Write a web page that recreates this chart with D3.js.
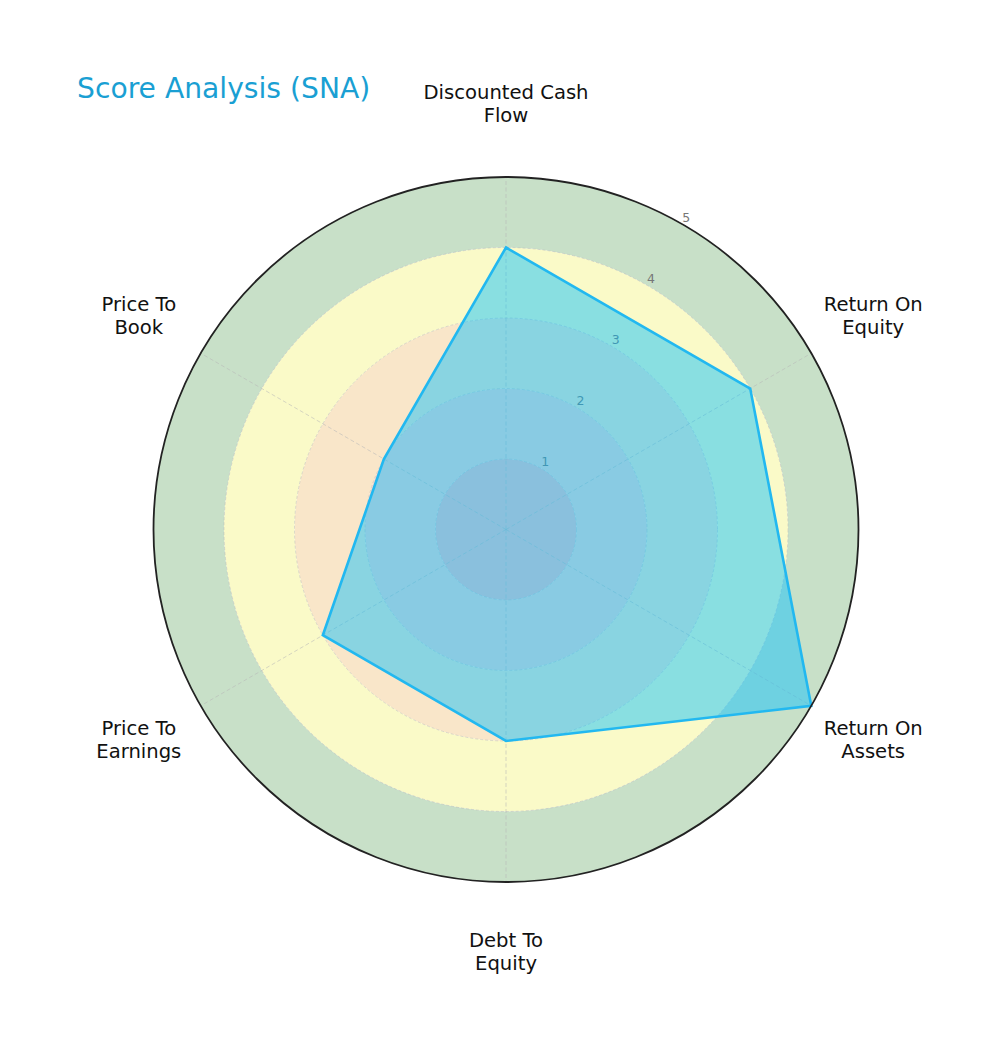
<!DOCTYPE html>
<html>
<head>
<meta charset="utf-8">
<script src="https://cdn.jsdelivr.net/npm/d3@7"></script>
<style>
  body { margin: 0; background: #fff; }
  svg { display: block; font-family: "DejaVu Sans", sans-serif; }
</style>
</head>
<body>
<svg id="chart"></svg>
<script>
// chart data
const categories = [
  "Discounted Cash\nFlow",
  "Return On\nEquity",
  "Return On\nAssets",
  "Debt To\nEquity",
  "Price To\nEarnings",
  "Price To\nBook"
];
const scores = [4, 4, 5, 3, 3, 2];
const tickValues = [1, 2, 3, 4, 5];
const bandEdges = [0, 1, 2, 3, 4, 5];
const bandColors = ["#fbc2c2", "#f9d6cc", "#f9e6c9", "#fafac8", "#c8e0c8"];

const width = 1000, height = 1051;
const cx = 506, cy = 529.5, outerR = 352.5;

const svg = d3.select("#chart")
  .attr("width", width)
  .attr("height", height)
  .attr("viewBox", `0 0 ${width} ${height}`);

const r = d3.scaleLinear().domain([0, 5]).range([0, outerR]);
const angle = d3.scaleLinear()
  .domain([0, categories.length])
  .range([0, 2 * Math.PI]);

const g = svg.append("g").attr("transform", `translate(${cx},${cy})`);

// background bands
const arc = d3.arc();
g.selectAll(".band")
  .data(d3.range(bandColors.length))
  .enter().append("path")
  .attr("class", "band")
  .attr("d", i => arc({ innerRadius: r(bandEdges[i]), outerRadius: r(bandEdges[i + 1]), startAngle: 0, endAngle: 2 * Math.PI }))
  .attr("fill", i => bandColors[i]);

// grid circles
g.selectAll(".ring")
  .data(tickValues.slice(0, -1))
  .enter().append("circle")
  .attr("class", "ring")
  .attr("r", d => r(d))
  .attr("fill", "none")
  .attr("stroke", "#b8b8b8")
  .attr("stroke-opacity", 0.6)
  .attr("stroke-width", 0.8)
  .attr("stroke-dasharray", "3,2");

// radial lines
g.selectAll(".spoke")
  .data(categories)
  .enter().append("line")
  .attr("class", "spoke")
  .attr("x1", 0).attr("y1", 0)
  .attr("x2", (d, i) => r(5) * Math.sin(angle(i)))
  .attr("y2", (d, i) => -r(5) * Math.cos(angle(i)))
  .attr("stroke", "#b8b8b8")
  .attr("stroke-opacity", 0.7)
  .attr("stroke-width", 0.8)
  .attr("stroke-dasharray", "4,2.5");

// radial tick labels at 30 degrees (under the polygon)
const tickAngle = Math.PI / 6;
g.selectAll(".tick-label")
  .data(tickValues)
  .enter().append("text")
  .attr("class", "tick-label")
  .attr("x", d => (r(d) + 8) * Math.sin(tickAngle))
  .attr("y", d => -(r(d) + 8) * Math.cos(tickAngle))
  .attr("text-anchor", "middle")
  .attr("dominant-baseline", "central")
  .attr("font-size", 12.5)
  .attr("fill", "#777")
  .text(d => d);

// score polygon
const line = d3.lineRadial()
  .angle((d, i) => angle(i))
  .radius(d => r(d))
  .curve(d3.curveLinearClosed);

g.append("path")
  .datum(scores)
  .attr("d", line)
  .attr("fill", "#00bfff")
  .attr("fill-opacity", 0.45)
  .attr("stroke", "#22b8f0")
  .attr("stroke-width", 2.6)
  .attr("stroke-linejoin", "miter");

// outer frame
g.append("circle")
  .attr("r", r(5))
  .attr("fill", "none")
  .attr("stroke", "#222")
  .attr("stroke-width", 1.8);

// category labels
const labelR = 424;
const labels = g.selectAll(".cat-label")
  .data(categories)
  .enter().append("text")
  .attr("class", "cat-label")
  .attr("text-anchor", "middle")
  .attr("font-size", 19.6)
  .attr("fill", "#111")
  .attr("transform", (d, i) => `translate(${labelR * Math.sin(angle(i))},${-labelR * Math.cos(angle(i)) - 1.5})`);

labels.each(function (d) {
  const parts = d.split("\n");
  const lh = 22.5;
  d3.select(this).selectAll("tspan")
    .data(parts)
    .enter().append("tspan")
    .attr("x", 0)
    .attr("y", (p, j) => (j - (parts.length - 1) / 2) * lh)
    .attr("dominant-baseline", "central")
    .text(p => p);
});

// title
svg.append("text")
  .attr("x", 77)
  .attr("y", 88)
  .attr("dominant-baseline", "central")
  .attr("font-size", 28.2)
  .attr("fill", "#1a9fd3")
  .text("Score Analysis (SNA)");
</script>
</body>
</html>
